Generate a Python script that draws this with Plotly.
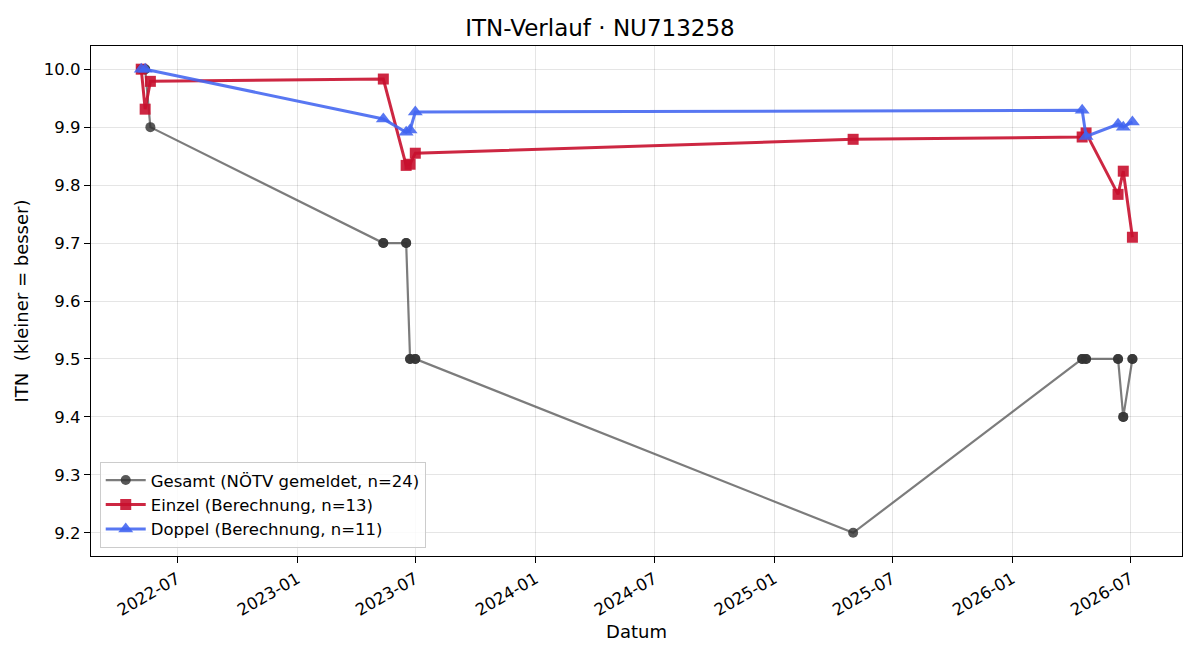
import plotly.graph_objects as go

# Data
einzel_dates = ["2022-05-07", "2022-05-13", "2022-05-21", "2023-05-13", "2023-06-17",
                "2023-06-23", "2023-07-01", "2025-05-02", "2026-04-18", "2026-04-24",
                "2026-06-12", "2026-06-20", "2026-07-04"]
einzel_vals = [10.0, 9.931, 9.979, 9.983, 9.834, 9.836, 9.855, 9.879, 9.883, 9.890,
               9.784, 9.824, 9.710]

doppel_dates = ["2022-05-07", "2022-05-13", "2023-05-13", "2023-06-17", "2023-06-23",
                "2023-07-01", "2026-04-18", "2026-04-24", "2026-06-12", "2026-06-20",
                "2026-07-04"]
doppel_vals = [10.0, 10.0, 9.914, 9.891, 9.895, 9.926, 9.929, 9.884, 9.905, 9.900, 9.909]

gesamt_dates = ["2022-05-07", "2022-05-07", "2022-05-13", "2022-05-13", "2022-05-21",
                "2023-05-13", "2023-05-13", "2023-06-17", "2023-06-17", "2023-06-23",
                "2023-06-23", "2023-07-01", "2023-07-01", "2025-05-02", "2026-04-18",
                "2026-04-18", "2026-04-24", "2026-04-24", "2026-06-12", "2026-06-12",
                "2026-06-20", "2026-06-20", "2026-07-04", "2026-07-04"]
gesamt_vals = [10.0, 10.0, 10.0, 10.0, 9.9, 9.7, 9.7, 9.7, 9.7, 9.5, 9.5, 9.5, 9.5, 9.2,
               9.5, 9.5, 9.5, 9.5, 9.5, 9.5, 9.4, 9.4, 9.5, 9.5]

tick_vals = ["2022-07-01", "2023-01-01", "2023-07-01", "2024-01-01", "2024-07-01",
             "2025-01-01", "2025-07-01", "2026-01-01", "2026-07-01"]
tick_text = ["2022-07", "2023-01", "2023-07", "2024-01", "2024-07",
             "2025-01", "2025-07", "2026-01", "2026-07"]

y_ticks = [9.2, 9.3, 9.4, 9.5, 9.6, 9.7, 9.8, 9.9, 10.0]
y_tick_text = ["9.2", "9.3", "9.4", "9.5", "9.6", "9.7", "9.8", "9.9", "10.0"]

FONT = "DejaVu Sans, Liberation Sans, sans-serif"

fig = go.Figure()
fig.add_trace(go.Scatter(
    x=gesamt_dates, y=gesamt_vals, mode="lines+markers",
    name=f"Gesamt (NÖTV gemeldet, n={len(gesamt_vals)})",
    line=dict(color="rgba(80,80,80,0.75)", width=2.2),
    marker=dict(symbol="circle", size=10, color="rgba(51,51,51,0.82)",
                line=dict(width=0)),
))
fig.add_trace(go.Scatter(
    x=einzel_dates, y=einzel_vals, mode="lines+markers",
    name=f"Einzel (Berechnung, n={len(einzel_vals)})",
    line=dict(color="rgba(200,16,46,0.9)", width=3),
    marker=dict(symbol="square", size=11, color="rgba(200,16,46,0.9)",
                line=dict(width=0)),
))
fig.add_trace(go.Scatter(
    x=doppel_dates, y=doppel_vals, mode="lines+markers",
    name=f"Doppel (Berechnung, n={len(doppel_vals)})",
    line=dict(color="rgba(65,100,240,0.88)", width=3),
    marker=dict(symbol="triangle-up", size=13, color="rgba(65,100,240,0.88)",
                line=dict(width=0)),
))

fig.update_layout(
    width=1200, height=660,
    margin=dict(l=91, r=18, t=46, b=104),
    paper_bgcolor="white", plot_bgcolor="white",
    font=dict(family=FONT, size=16, color="black"),
    title=dict(text="ITN-Verlauf · NU713258", x=0.5, xanchor="center",
               y=1 - 28 / 660, yanchor="middle",
               font=dict(family=FONT, size=23, color="black")),
    showlegend=True,
    legend=dict(x=0.008, y=0.016, xanchor="left", yanchor="bottom",
                bgcolor="rgba(255,255,255,0.85)", bordercolor="#cccccc",
                borderwidth=1, font=dict(family=FONT, size=16.5, color="black"),
                tracegroupgap=0, itemwidth=40),
)
fig.update_xaxes(
    type="date", range=["2022-02-19", "2026-09-18"],
    tickvals=tick_vals, ticktext=tick_text, tickangle=-30,
    ticks="outside", ticklen=6, tickcolor="black",
    showgrid=True, gridcolor="rgba(0,0,0,0.1)", gridwidth=1,
    showline=True, linecolor="black", linewidth=1.2, mirror=True,
    zeroline=False,
    title=dict(text="Datum", font=dict(family=FONT, size=18), standoff=6),
    tickfont=dict(family=FONT, size=16.5),
)
fig.update_yaxes(
    range=[9.16, 10.04],
    tickvals=y_ticks, ticktext=y_tick_text,
    ticks="outside", ticklen=6, tickcolor="black",
    showgrid=True, gridcolor="rgba(0,0,0,0.1)", gridwidth=1,
    showline=True, linecolor="black", linewidth=1.2, mirror=True,
    zeroline=False,
    title=dict(text="ITN  (kleiner = besser)", font=dict(family=FONT, size=18), standoff=10),
    tickfont=dict(family=FONT, size=16.5),
)

fig.write_html("out.html")
